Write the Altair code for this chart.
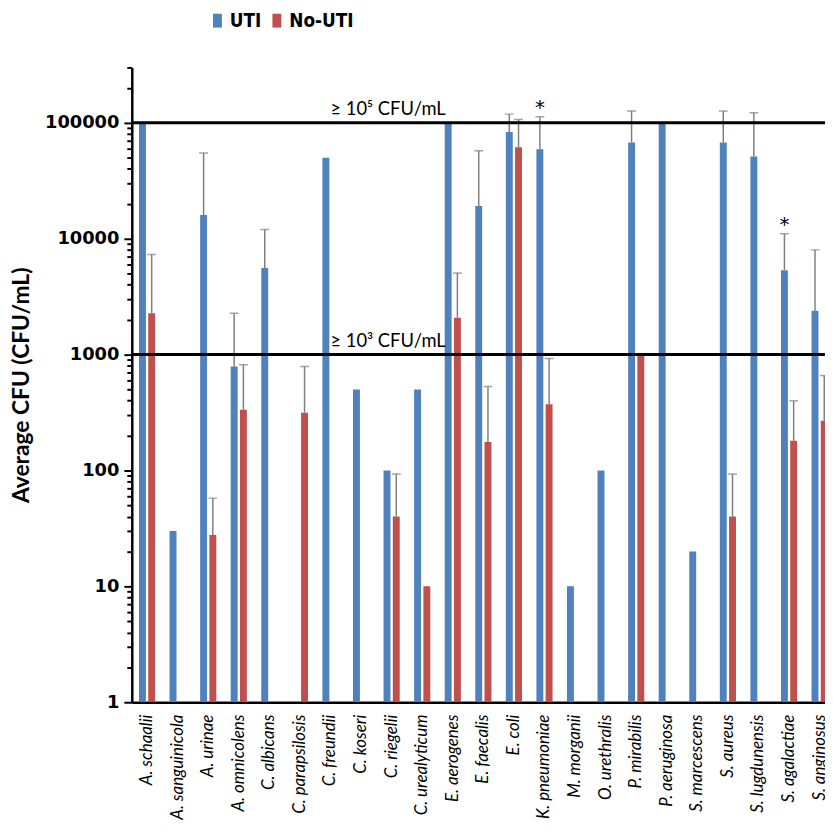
import altair as alt
import pandas as pd

species = ["A. schaalii", "A. sanguinicola", "A. urinae", "A. omnicolens", "C. albicans",
           "C. parapsilosis", "C. freundii", "C. koseri", "C. riegelii", "C. urealyticum",
           "E. aerogenes", "E. faecalis", "E. coli", "K. pneumoniae", "M. morganii",
           "O. urethralis", "P. mirabilis", "P. aeruginosa", "S. marcescens", "S. aureus",
           "S. lugdunensis", "S. agalactiae", "S. anginosus"]
groups = ["UTI", "No-UTI"]

uti = [100000, 30, 16000, 790, 5570, None, 50000, 500, 100, 500, 100000, 19100, 83200,
       59100, 10, 100, 67500, 100000, 20, 67500, 51200, 5330, 2390]
uti_err = [None, None, 54700, 2270, 12000, None, None, None, None, None, None, 57300, 118700,
           112500, None, None, 126000, None, None, 126000, 122000, 11000, 8000]
no_uti = [2270, None, 27.7, 334, None, 315, None, None, 40, 10, 2080, 176, 61500,
          372, None, None, 1000, None, None, 40, None, 180, 269]
no_uti_err = [7300, None, 57.7, 816, None, 789, None, None, 93, None, 5050, 530, 106700,
              924, None, None, None, None, None, 93, None, 399, 658]
starred = ["K. pneumoniae", "S. agalactiae"]

thresholds = [100000, 1000]
threshold_labels = ["\u2265 10\u2075 CFU/mL", "\u2265 10\u00b3 CFU/mL"]
threshold_anchor = "C. freundii"

decades = [1, 10, 100, 1000, 10000, 100000]
minor_mult = [1, 2, 3, 4, 5, 6, 7, 8, 9]
y_max = 300000

tick_values = [d * m for d in decades for m in minor_mult if d * m <= y_max]

rows = []
for i, sp in enumerate(species):
    if uti[i] is not None:
        rows.append({"species": sp, "group": "UTI", "value": uti[i], "err": uti_err[i],
                     "star": sp in starred})
    if no_uti[i] is not None:
        rows.append({"species": sp, "group": "No-UTI", "value": no_uti[i], "err": no_uti_err[i],
                     "star": False})
df = pd.DataFrame(rows)
thdf = pd.DataFrame({"value": thresholds, "label": threshold_labels})

BLUE = "#4F81BD"
RED = "#C0504D"
GREY = "#7F7F7F"
TITLE = "Average CFU (CFU/mL)"
dec_str = "[" + ",".join(str(d) for d in decades) + "]"

x_scale = alt.Scale(domain=species, range=[0, 710], paddingInner=0, paddingOuter=0)
x_axis = alt.Axis(labelAngle=-90, labelFont="Lato", labelFontStyle="italic", labelFontSize=17,
                  labelColor="black", ticks=False, domainColor="black", domainWidth=2.5,
                  labelPadding=12, title=None, labelLimit=300)
y_scale = alt.Scale(type="log", domain=[1, y_max], nice=False)
y_axis = alt.Axis(values=tick_values, format="d",
                  labelExpr=f"indexof({dec_str}, datum.value) >= 0 ? format(datum.value, 'd') : ''",
                  tickSize={"condition": {"test": f"indexof({dec_str}, datum.value) >= 0", "value": 8},
                            "value": 5},
                  tickColor="black", tickWidth=2, domainColor="black", domainWidth=2.5,
                  labelFont="DejaVu Sans", labelFontWeight="bold", labelFontSize=18,
                  labelColor="black", labelPadding=5, grid=False,
                  titleFont="Lato", titleFontWeight="bold", titleFontSize=23,
                  titleColor="black", titlePadding=11)


def X():
    return alt.X("species:N", sort=species, scale=x_scale, axis=x_axis)


def XO():
    return alt.XOffset("group:N", sort=groups,
                       scale=alt.Scale(domain=groups, paddingInner=0.25, paddingOuter=0.78))


def Y(field):
    return alt.Y(field + ":Q", scale=y_scale, axis=y_axis, title=TITLE)


color = alt.Color("group:N", sort=groups,
                  scale=alt.Scale(domain=groups, range=[BLUE, RED]),
                  legend=alt.Legend(orient="none", legendX=77, legendY=-57, direction="horizontal",
                                    title=None, symbolType="M-0.64,-1H0.64V1H-0.64Z",
                                    symbolSize=196, symbolStrokeWidth=0,
                                    labelFont="DejaVu Sans Condensed, Liberation Sans Narrow, Liberation Sans",
                                    labelFontSize=19, labelFontWeight="bold", labelColor="black",
                                    columnPadding=6, labelOffset=3, padding=0))

base = alt.Chart(df)

bars = base.mark_bar(clip=True).encode(
    x=X(), xOffset=XO(), y=Y("value"), y2=alt.datum(1), color=color
)

err = base.transform_filter("isValid(datum.err)").mark_rule(
    color=GREY, strokeWidth=1.5, clip=True
).encode(x=X(), xOffset=XO(), y=Y("value"), y2="err:Q")

caps = base.transform_filter("isValid(datum.err)").mark_tick(
    color=GREY, size=9, thickness=1.5, clip=True
).encode(x=X(), xOffset=XO(), y=Y("err"))

stars = base.transform_filter("datum.star").mark_text(
    text="*", fontSize=20, font="DejaVu Sans", color="black", baseline="alphabetic", dy=-3
).encode(x=X(), xOffset=XO(), y=Y("err"))

th_rule = alt.Chart(thdf).mark_rule(color="black", strokeWidth=3).encode(y=Y("value"))

th_text = alt.Chart(thdf).mark_text(
    align="left", baseline="alphabetic", dy=-8, fontSize=18.5, font="Lato", color="black"
).encode(x=alt.datum(threshold_anchor), y=Y("value"), text="label:N")

chart = alt.layer(bars, err, caps, th_rule, th_text, stars).properties(
    width=700, height=641,
    autosize=alt.AutoSizeParams(type="none"),
    padding={"left": 125, "top": 56, "right": 0, "bottom": 127},
).configure_view(stroke=None)

chart.save("out.html", embed_options={"renderer": "svg", "actions": False})
